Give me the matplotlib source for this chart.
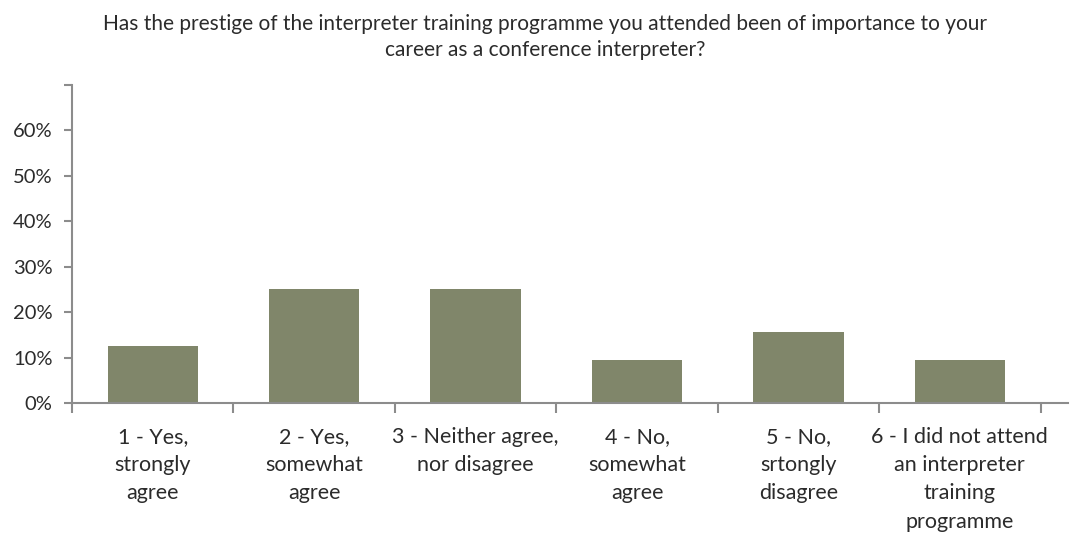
import numpy as np
import matplotlib.pyplot as plt
from matplotlib.ticker import FixedLocator

plt.rcParams['font.family'] = ['Lato', 'DejaVu Sans']

title = ("Has the prestige of the interpreter training programme you attended been of importance to your\n"
         "career as a conference interpreter?")
categories = ["1 - Yes,\nstrongly\nagree",
              "2 - Yes,\nsomewhat\nagree",
              "3 - Neither agree,\nnor disagree",
              "4 - No,\nsomewhat\nagree",
              "5 - No,\nsrtongly\ndisagree",
              "6 - I did not attend\nan interpreter\ntraining\nprogramme"]
shares = [0.125, 0.25, 0.25, 0.094, 0.156, 0.094]
yticks = [0, 0.1, 0.2, 0.3, 0.4, 0.5, 0.6, 0.7]
ytick_labels = ["0%", "10%", "20%", "30%", "40%", "50%", "60%", ""]

bar_color = "#80866a"
axis_color = "#8c8c8c"
text_color = "#2b2b2b"

fig = plt.figure(figsize=(10.75, 5.34), dpi=100)
ax = fig.add_axes([0.067, 0.2453, 0.9265, 0.5955])

x = np.arange(len(categories))
ax.bar(x, shares, width=0.56, color=bar_color, zorder=2)

ax.set_xlim(-0.5, 5.67)
ax.set_ylim(0, 0.7)

# category boundaries carry the ticks, labels sit at the centres
ax.xaxis.set_major_locator(FixedLocator(np.arange(-0.5, 6, 1.0)))
ax.xaxis.set_minor_locator(FixedLocator(x))
ax.set_xticklabels([])
ax.set_xticklabels(categories, minor=True, fontsize=15.5, color=text_color,
                   linespacing=1.52, va="top")
ax.tick_params(axis="x", which="major", length=7, width=1.5, color=axis_color, direction="out")
ax.tick_params(axis="x", which="minor", length=0, pad=17)

ax.set_yticks(yticks)
ax.set_yticklabels(ytick_labels, fontsize=14.5, color=text_color)
ax.tick_params(axis="y", length=6, width=1.5, color=axis_color, pad=8)

for s in ["top", "right"]:
    ax.spines[s].set_visible(False)
for s in ["left", "bottom"]:
    ax.spines[s].set_color(axis_color)
    ax.spines[s].set_linewidth(1.5)

fig.text(0.507, 0.974, title, ha="center", va="top", fontsize=15,
         color=text_color, linespacing=1.38)

plt.savefig("out.png", dpi=100)
